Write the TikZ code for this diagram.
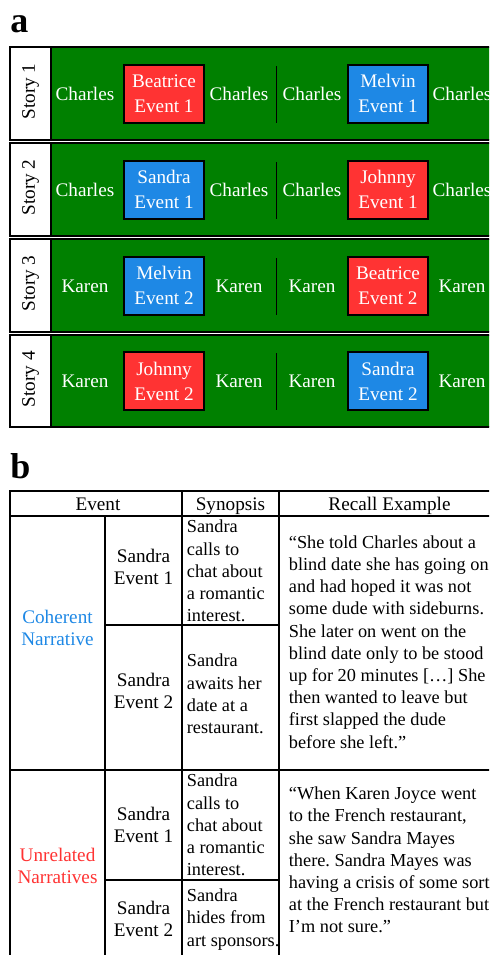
\documentclass[tikz,border=0pt]{standalone}
\usepackage{fontspec}
\setmainfont{Liberation Serif}
\usepackage{tikz}
\usetikzlibrary{positioning}
\frenchspacing

\definecolor{storygreen}{RGB}{0,128,0}
\definecolor{evred}{RGB}{255,51,51}
\definecolor{evblue}{RGB}{30,136,229}

\begin{document}
\begin{tikzpicture}[x=0.5pt,y=-0.5pt,
	every node/.style={font=\fontsize{9.6}{11.1}\selectfont, inner sep=0pt},
	rowframe/.style={draw=black, line width=0.7pt},
	who/.style={text=white, anchor=base},
	evbox/.style={draw=black, line width=1pt, minimum width=40pt, minimum height=29pt, text=white, align=center, font=\fontsize{9.6}{12.5}\selectfont},
	divider/.style={line width=0.5pt},
	tabline/.style={line width=0.75pt},
	syn/.style={anchor=west, align=left, font=\fontsize{9.15}{11.1}\selectfont},
	panel/.style={font=\bfseries\fontsize{18}{20}\selectfont, anchor=base west}
	]
			\useasboundingbox (0,0) rectangle (489,955);
			\clip (0,0) rectangle (489,955);
			
			% panel a
			\node[panel] (pa) at (10,32) {a};
			
			\draw[rowframe, fill=white] (10,47) rectangle (51,140) node[pos=.5, rotate=90, xshift=1pt] (st1) {Story 1};
			\draw[rowframe, fill=storygreen] (51,47) rectangle (500,140);
			\node[who] (r1a) at (85,100) {Charles};
			\node[evbox, fill=evred] (bea1) at (164,93.5) {Beatrice\\Event 1};
			\node[who] (r1b) at (239,100) {Charles};
			\draw[divider] (276,66) -- (276,123);
			\node[who] (r1c) at (312,100) {Charles};
			\node[evbox, fill=evblue] (mel1) at (388,93.5) {Melvin\\Event 1};
			\node[who] (r1d) at (462,100) {Charles};
			
			\draw[rowframe, fill=white] (10,143) rectangle (51,236) node[pos=.5, rotate=90, xshift=1pt] (st2) {Story 2};
			\draw[rowframe, fill=storygreen] (51,143) rectangle (500,236);
			\node[who] (r2a) at (85,196) {Charles};
			\node[evbox, fill=evblue] (san1) at (164,189.5) {Sandra\\Event 1};
			\node[who] (r2b) at (239,196) {Charles};
			\draw[divider] (276,162) -- (276,219);
			\node[who] (r2c) at (312,196) {Charles};
			\node[evbox, fill=evred] (joh1) at (388,189.5) {Johnny\\Event 1};
			\node[who] (r2d) at (462,196) {Charles};
			
			\draw[rowframe, fill=white] (10,239) rectangle (51,332) node[pos=.5, rotate=90, xshift=1pt] (st3) {Story 3};
			\draw[rowframe, fill=storygreen] (51,239) rectangle (500,332);
			\node[who] (r3a) at (85,292) {Karen};
			\node[evbox, fill=evblue] (mel2) at (164,285.5) {Melvin\\Event 2};
			\node[who] (r3b) at (239,292) {Karen};
			\draw[divider] (276,258) -- (276,315);
			\node[who] (r3c) at (312,292) {Karen};
			\node[evbox, fill=evred] (bea2) at (388,285.5) {Beatrice\\Event 2};
			\node[who] (r3d) at (462,292) {Karen};
			
			\draw[rowframe, fill=white] (10,335) rectangle (51,427) node[pos=.5, rotate=90, xshift=1pt] (st4) {Story 4};
			\draw[rowframe, fill=storygreen] (51,335) rectangle (500,427);
			\node[who] (r4a) at (85,387) {Karen};
			\node[evbox, fill=evred] (joh2) at (164,381) {Johnny\\Event 2};
			\node[who] (r4b) at (239,387) {Karen};
			\draw[divider] (276,353) -- (276,410);
			\node[who] (r4c) at (312,387) {Karen};
			\node[evbox, fill=evblue] (san2) at (388,381) {Sandra\\Event 2};
			\node[who] (r4d) at (462,387) {Karen};
			
			% panel b
			\node[panel] (pb) at (10,478) {b};
			
			\draw[tabline] (10,491) rectangle (500,965);
			\draw[tabline] (10,516) -- (500,516);
			\draw[tabline] (10,770) -- (500,770);
			\draw[tabline] (105,625) -- (279,625);
			\draw[tabline] (105,880) -- (279,880);
			\draw[tabline] (105,516) -- (105,965);
			\draw[tabline] (182,491) -- (182,965);
			\draw[tabline] (279,491) -- (279,965);
			
			\node[anchor=base] (hev) at (98,510) {Event};
			\node[anchor=base] (hsyn) at (230.5,510) {Synopsis};
			\node[anchor=base] (hrec) at (389.5,510) {Recall Example};
			
			\node[align=center, text=evblue] (coh) at (57.5,628) {Coherent\\Narrative};
			\node[align=center] (ce1) at (143.5,567) {Sandra\\Event 1};
			\node[align=center] (ce2) at (143.5,691) {Sandra\\Event 2};
			\node[syn] (cs1) at (186.5,571) {Sandra\\calls to\\chat about\\a romantic\\interest.};
			\node[syn] (cs2) at (186.5,694) {Sandra\\awaits her\\date at a\\restaurant.};
			\node[syn] (crec) at (288.5,642) {“She told Charles about a\\blind date she has going on\\and had hoped it was not\\some dude with sideburns.\\She later on went on the\\blind date only to be stood\\up for 20 minutes […] She\\then wanted to leave but\\first slapped the dude\\before she left.”};
			
			\node[align=center, text=evred] (unr) at (57.5,866) {Unrelated\\Narratives};
			\node[align=center] (ue1) at (143.5,825) {Sandra\\Event 1};
			\node[align=center] (ue2) at (143.5,919) {Sandra\\Event 2};
			\node[syn] (us1) at (186.5,825) {Sandra\\calls to\\chat about\\a romantic\\interest.};
			\node[syn] (us2) at (186.5,919.5) {Sandra\\hides from\\art sponsors.};
			\node[syn] (urec) at (288.5,860) {“When Karen Joyce went\\to the French restaurant,\\she saw Sandra Mayes\\there. Sandra Mayes was\\having a crisis of some sort\\at the French restaurant but\\I’m not sure.”};
\end{tikzpicture}
\end{document}
